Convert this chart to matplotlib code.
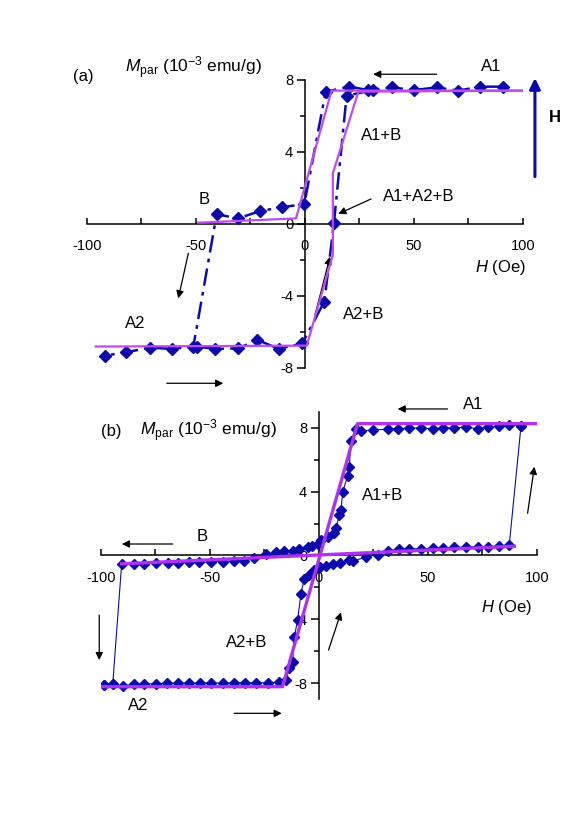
import numpy as np
from matplotlib import pyplot as plt
from matplotlib import rcParams
from matplotlib.ticker import MultipleLocator

config = {
    "font.family": "Liberation Sans",
    "mathtext.fontset": "custom",
    "mathtext.rm": "Liberation Sans",
    "mathtext.it": "Liberation Sans:italic",
    "mathtext.bf": "Liberation Sans:bold",
    "axes.unicode_minus": False,
}
rcParams.update(config)

blue = "#0b0bab"
violetA = "#c04af0"
violetB = "#b032f0"
tickSize = 10.5
textSize = 12

# ---------------- panel (a) data ----------------
Ha_down = [91.0, 80.3, 70.3, 60.4, 50.1, 39.8, 29.0, 20.3, 9.5, -0.3, -10.4, -20.6, -30.6, -40.5,
           -51.2, -61.2, -71.1, -82.1, -91.7]
Ma_down = [7.63, 7.63, 7.41, 7.59, 7.44, 7.59, 7.44, 7.63, 7.35, 1.11, 0.93, 0.72, 0.31, 0.54,
           -6.81, -6.94, -6.87, -7.13, -7.31]
Ha_up = [-49.7, -41.3, -30.6, -21.9, -11.9, -1.2, 8.9, 13.3, 19.1, 31.3]
Ma_up = [-6.81, -6.94, -6.91, -6.44, -6.94, -6.63, -4.31, 0.07, 7.13, 7.44]

# model lines (a)
fitA_down_H = [100, 12.2, -4.1, -49.0]
fitA_down_M = [7.41, 7.41, 0.31, 0.07]
fitA_up_H = [-96, 0.8, 12.8, 12.8, 24.5, 100]
fitA_up_M = [-6.81, -6.76, -1.72, 2.82, 7.35, 7.41]

# ---------------- panel (b) data ----------------
Hb_down = [92.7, 87.3, 82.7, 77.4, 72.8, 67.4, 62.1, 56.7, 52.2, 46.8, 41.4, 36.1, 31.5, 24.6, 19.3,
           16.8, 14.7, 13.9, 13.2, 10.9, 10.1, 9.3, 7.8, 7.0, 4.0, 0.9, -0.6, -3.0, -5.2, -9.0,
           -12.1, -15.9, -19.7, -24.3, -29.7, -34.3, -38.9, -44.2, -49.5, -54.9, -59.5, -64.8,
           -69.4, -74.8, -80.1, -84.7, -90.5, -94.6, -98.5]
Mb_down = [8.15, 8.2, 8.1, 8.05, 7.95, 8.05, 8.0, 8.0, 7.95, 8.0, 8.0, 7.95, 7.92, 7.88, 7.81,
           7.94, 7.19, 5.55, 5.0, 4.0, 2.85, 2.54, 1.7, 1.39, 1.18, 0.97, 0.73, 0.62, 0.52, 0.42,
           0.27, 0.3, 0.21, 0.08, -0.13, -0.33, -0.35, -0.38, -0.4, -0.44, -0.44, -0.46,
           -0.46, -0.46, -0.52, -0.52, -0.52, -8.05, -8.1]
Hb_up = [-98.5, -94.6, -90.0, -84.7, -80.1, -74.8, -69.7, -64.8, -59.5, -54.4, -49.5, -44.2, -38.9,
         -33.9, -28.9, -23.5, -18.2, -15.1, -13.6, -12.1, -11.3, -9.8, -8.3, -6.7, -4.5, -2.1, 0.5,
         3.2, 6.3, 9.5, 13.9, 15.4, 21.6, 26.9, 31.8, 36.8, 41.4, 46.8, 52.2, 56.7, 62.1, 67.4,
         72.8, 77.4, 82.7, 87.3, 92.7]
Mb_up = [-8.1, -8.05, -8.2, -8.05, -8.05, -8.05, -8.0, -8.02, -8.02, -8.0, -8.0, -8.0, -8.0,
         -7.98, -8.0, -7.98, -7.95, -7.81, -7.06, -6.67, -5.1, -4.06, -2.4, -1.46, -1.2, -0.94, -0.75,
         -0.63, -0.52, -0.45, -0.31, -0.35, -0.1, 0.06, 0.31, 0.38, 0.42, 0.42, 0.46, 0.46, 0.52, 0.52,
         0.56, 0.52, 0.58, 0.67, 8.15]

# model lines (b)
fitB_loop_H = [100, 17.7, -16.7, -100]
fitB_loop_M = [8.27, 8.27, -8.23, -8.23]
fitB_flat_H = [-90.5, 89.6]
fitB_flat_M = [-0.52, 0.58]


def styleAxes(ax, ylim):
    ax.set_xlim(-100, 100)
    ax.set_ylim(*ylim)
    for side in ["top", "right"]:
        ax.spines[side].set_visible(False)
    ax.spines["left"].set_position(("data", 0))
    ax.spines["bottom"].set_position(("data", 0))
    for side in ["left", "bottom"]:
        ax.spines[side].set_linewidth(1.1)
    ax.xaxis.set_major_locator(MultipleLocator(50))
    ax.xaxis.set_minor_locator(MultipleLocator(25))
    ax.yaxis.set_major_locator(MultipleLocator(4))
    ax.yaxis.set_minor_locator(MultipleLocator(2))
    ax.set_yticks([-8, -4, 0, 4, 8])
    ax.tick_params(axis="x", which="both", direction="in", length=4, width=1.1, pad=11,
                   labelsize=tickSize)
    ax.tick_params(axis="y", which="major", direction="out", length=5.5, width=1.1, pad=3,
                   labelsize=tickSize)
    ax.tick_params(axis="y", which="minor", direction="out", length=3.5, width=1.1)
    ax.patch.set_alpha(0)


def arrow(ax, start, end):
    ax.annotate("", xy=end, xytext=start,
                arrowprops=dict(arrowstyle="-|>", color="black", lw=0.9, mutation_scale=11,
                                shrinkA=0, shrinkB=0), annotation_clip=False)


fig = plt.figure(figsize=(5.81, 8.23), dpi=100)

# ---------------- (a) ----------------
ax1 = fig.add_axes([0.1497, 0.5529, 0.7504, 0.3499])
styleAxes(ax1, (-8, 8))
dashdot = (0, (7, 2.5, 1.5, 2.5))
ax1.plot(Ha_down, Ma_down, color=blue, lw=1.8, linestyle=dashdot, marker="D", markersize=6.3,
         zorder=3)
ax1.plot(Ha_up, Ma_up, color=blue, lw=1.8, linestyle=dashdot, marker="D", markersize=6.3, zorder=3)
ax1.plot(fitA_down_H, fitA_down_M, color=violetA, lw=1.6, zorder=4)
ax1.plot(fitA_up_H, fitA_up_M, color=violetA, lw=1.6, zorder=4)

ax1.text(-106.3, 7.94, "(a)", fontsize=textSize, ha="left", va="baseline")
ax1.text(-82.6, 8.39, r"$M_{\rm par}$ (10$^{-3}$ emu/g)", fontsize=textSize + 0.5, ha="left",
         va="baseline")
ax1.text(85.3, 8.74, "A1", fontsize=textSize, ha="center", va="center")
ax1.text(35.2, 4.89, "A1+B", fontsize=textSize, ha="center", va="center")
ax1.text(52.3, 1.52, "A1+A2+B", fontsize=textSize, ha="center", va="center")
ax1.text(-46.3, 1.37, "B", fontsize=textSize, ha="center", va="center")
ax1.text(-77.8, -5.52, "A2", fontsize=textSize, ha="center", va="center")
ax1.text(27.1, -5.04, "A2+B", fontsize=textSize, ha="center", va="center")
ax1.text(89.8, -2.42, r"$H$ (Oe)", fontsize=textSize, ha="center", va="center")
ax1.text(114.7, 5.92, "H", fontsize=textSize, fontweight="bold", ha="center", va="center")

arrow(ax1, (60.4, 8.32), (31.3, 8.32))
arrow(ax1, (30.3, 1.39), (15.3, 0.56))
arrow(ax1, (-53.5, -1.63), (-58.1, -4.13))
arrow(ax1, (-63.4, -8.85), (-37.5, -8.85))
arrow(ax1, (4.6, -5.06), (11.5, -1.82))
ax1.annotate("", xy=(105.5, 8.11), xytext=(105.5, 2.63),
             arrowprops=dict(arrowstyle="-|>", color=blue, lw=2.2, mutation_scale=16,
                             shrinkA=0, shrinkB=0), annotation_clip=False)

# ---------------- (b) ----------------
ax2 = fig.add_axes([0.1738, 0.1507, 0.7504, 0.3487])
styleAxes(ax2, (-9, 9))
ax2.plot(Hb_down, Mb_down, color=blue, lw=0.8, marker="D", markersize=5.2, zorder=3)
ax2.plot(Hb_up, Mb_up, color=blue, lw=0.8, marker="D", markersize=5.2, zorder=3)
ax2.plot(fitB_loop_H, fitB_loop_M, color=violetB, lw=2.4, zorder=4)
ax2.plot(fitB_flat_H, fitB_flat_M, color=violetB, lw=2.4, zorder=4)

ax2.text(-100, 7.5, "(b)", fontsize=textSize, ha="left", va="baseline")
ax2.text(-82, 7.5, r"$M_{\rm par}$ (10$^{-3}$ emu/g)", fontsize=textSize + 0.5, ha="left",
         va="baseline")
ax2.text(70.6, 9.48, "A1", fontsize=textSize, ha="center", va="center")
ax2.text(29.2, 3.75, "A1+B", fontsize=textSize, ha="center", va="center")
ax2.text(-53.8, 1.18, "B", fontsize=textSize, ha="center", va="center")
ax2.text(-33.4, -5.46, "A2+B", fontsize=textSize, ha="center", va="center")
ax2.text(-82.7, -9.43, "A2", fontsize=textSize, ha="center", va="center")
ax2.text(86.2, -3.26, r"$H$ (Oe)", fontsize=textSize, ha="center", va="center")

arrow(ax2, (59.0, 9.19), (36.1, 9.19))
arrow(ax2, (95.7, 2.65), (98.8, 5.57))
arrow(ax2, (-67.1, 0.72), (-90.4, 0.72))
arrow(ax2, (-100.8, -3.73), (-100.8, -6.56))
arrow(ax2, (-38.9, -9.9), (-17.1, -9.9))
arrow(ax2, (4.4, -5.93), (10.1, -3.56))

plt.savefig("out.png", dpi=100)
